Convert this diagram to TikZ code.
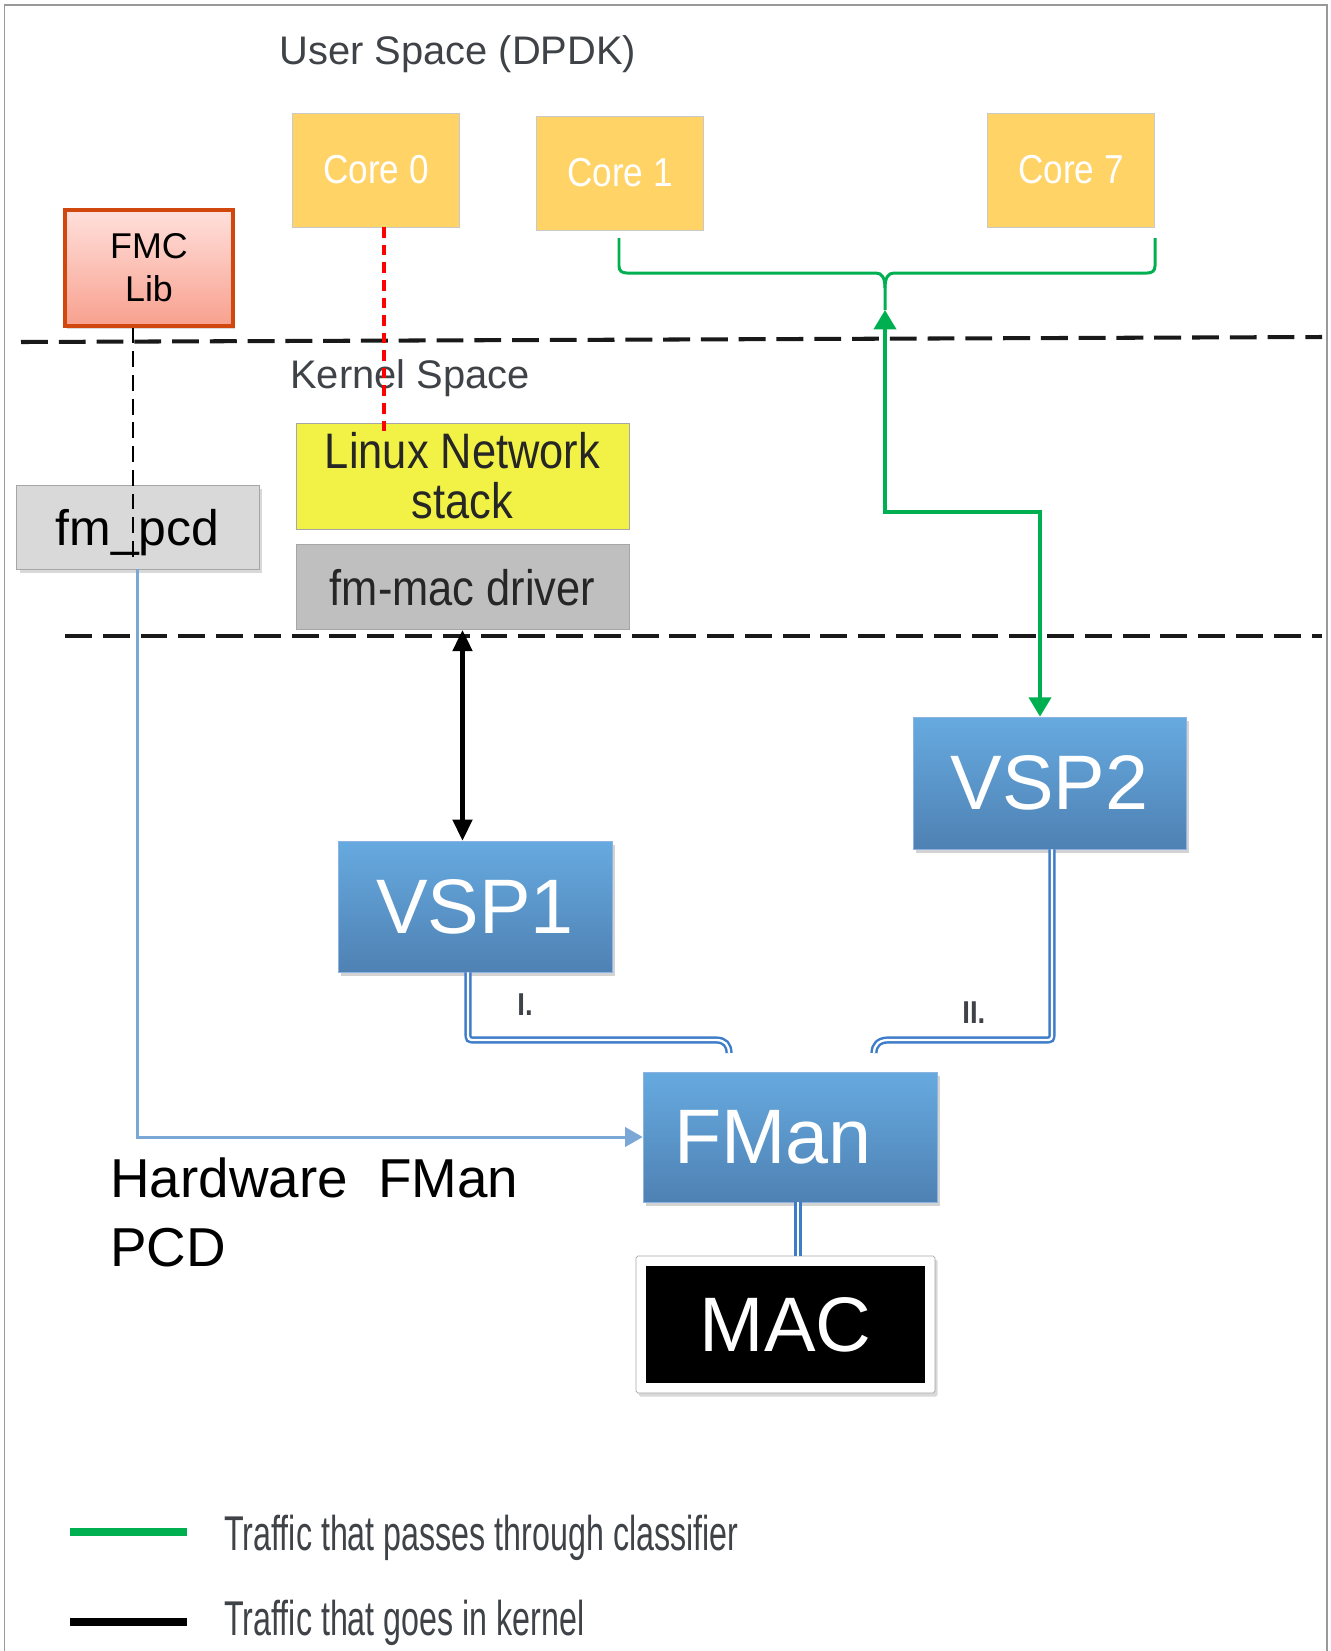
\documentclass[tikz,border=0pt]{standalone}
\usepackage{fontspec}
\setmainfont{Liberation Sans}
\newfontfamily\narrowfont[FakeStretch=0.87]{Liberation Sans}
\newfontfamily\legendfont[FakeStretch=0.66]{Liberation Sans}
\usetikzlibrary{arrows.meta}
\usetikzlibrary{positioning, shadows}
\definecolor{coreyel}{HTML}{FFD366}
\definecolor{coreedge}{HTML}{C9C9C9}
\definecolor{linuxyel}{HTML}{F2F246}
\definecolor{macgray}{HTML}{BFBFBF}
\definecolor{pcdgray}{HTML}{D9D9D9}
\definecolor{boxedge}{HTML}{A6A6A6}
\definecolor{vsptop}{HTML}{66AAE0}
\definecolor{vspbot}{HTML}{4F81B3}
\definecolor{vspedge}{HTML}{8DB3E2}
\definecolor{fmctop}{HTML}{FFE0DC}
\definecolor{fmcbot}{HTML}{F8A08E}
\definecolor{fmcedge}{HTML}{D1480F}
\definecolor{trafgreen}{HTML}{00B050}
\definecolor{pcdblue}{HTML}{7BA7D7}
\definecolor{dblblue}{HTML}{3D7CC9}
\definecolor{lblgray}{HTML}{3F4347}

\begin{document}
\begin{tikzpicture}[
    x=0.02cm, y=-0.02cm,
    spacelbl/.style={text=lblgray, inner sep=0pt, font=\fontsize{22.7pt}{27pt}\selectfont},
    corebox/.style={draw=coreedge, fill=coreyel, minimum width=3.34cm, minimum height=2.28cm,
                    inner sep=0pt, text=white, font=\narrowfont\fontsize{23pt}{27pt}\selectfont},
    kbox/.style={draw=boxedge, minimum width=6.66cm, inner sep=0pt, text=black!85,
                 align=center, font=\narrowfont\fontsize{28.4pt}{28.4pt}\selectfont},
    hwbox/.style={draw=vspedge, top color=vsptop, bottom color=vspbot, text=white,
                  inner sep=0pt, font=\fontsize{44pt}{50pt}\selectfont,
                  drop shadow={shadow xshift=1.5pt, shadow yshift=-2pt, opacity=.35}},
    dbl/.style={draw=dblblue, line width=1.4pt, double=white, double distance=1.3pt},
    divider/.style={line width=2.3pt, dash pattern=on 15.3pt off 6.2pt, black!90},
    greenarrow/.style={trafgreen, line width=2.3pt},
    legendlbl/.style={text=lblgray, inner sep=0pt, anchor=base west,
                      font=\legendfont\fontsize{27.8pt}{30pt}\selectfont},
  ]
  \useasboundingbox (0,0) rectangle (1330,1651);
  \draw[black!40, line width=0.8pt] (4.5,1651) -- (4.5,5) -- (1327,5) -- (1327,1651);

  % ---- user space ----
  \node[spacelbl, anchor=base west] (userlbl) at (279,64) {User Space (DPDK)};
  \node[corebox] (core0) at (376,170) {Core 0};
  \node[corebox] (core1) at (620,173) {Core 1};
  \node[corebox] (core7) at (1071,170) {Core 7};
  \node[draw=fmcedge, line width=1.8pt, top color=fmctop, bottom color=fmcbot,
        minimum width=3.36cm, minimum height=2.32cm, inner sep=0pt, align=center,
        font=\fontsize{20.4pt}{24.4pt}\selectfont,
        drop shadow={shadow xshift=1pt, shadow yshift=-1.5pt, opacity=.3}]
    (fmc) at (149,268) {FMC\\Lib};

  % ---- space dividers ----
  \draw[divider] (21,342) -- (1322,337);
  \draw[divider] (65,636) -- (1322,636);

  % ---- kernel space ----
  \node[spacelbl, anchor=base west] (kernlbl) at (290,388) {Kernel Space};
  \node[kbox, fill=linuxyel, minimum height=2.12cm] (linux) at (462.5,476)
    {Linux Network\\stack};
  \node[kbox, fill=macgray, minimum height=1.7cm, below=3mm of linux] (fmmac) {fm-mac driver};
  \node[draw=boxedge, fill=pcdgray, minimum width=4.86cm, minimum height=1.68cm,
        inner sep=0pt, text depth=0pt, font=\fontsize{28.4pt}{30pt}\selectfont,
        drop shadow={shadow xshift=2pt, shadow yshift=-2.5pt, opacity=.3}]
    (fmpcd) at (137.5,527) {fm\_pcd};

  % (1) control paths
  \coordinate (fmcout) at ([xshift=-3.2mm]fmc.south);
  \coordinate (pcdend) at (133,557);
  \draw[line width=1.6pt, dash pattern=on 9pt off 4.5pt] (fmcout) -- (fmcout |- pcdend);
  \draw[red, line width=2pt, dash pattern=on 6pt off 4pt]
    ([xshift=1.6mm]core0.south) -- ([xshift=1.6mm]core0.south |- 0,433);

  % ---- hardware ----
  \node[hwbox, minimum width=5.48cm, minimum height=2.62cm] (vsp1) at (475,906.5) {VSP1};
  \node[hwbox, minimum width=5.46cm, minimum height=2.64cm] (vsp2) at (1049.5,783) {VSP2};
  \node[hwbox, minimum width=5.88cm, minimum height=2.6cm, text width=4.64cm,
        inner xsep=0.62cm, align=left] (fman) at (790,1137) {FMan};
  \node[draw=black!35, fill=white, rounded corners=1pt, minimum width=5.98cm,
        minimum height=2.74cm, drop shadow={shadow xshift=1.5pt, shadow yshift=-2pt, opacity=.3}]
    (macbox) at (785.5,1324.5) {};
  \node[fill=black, text=white, minimum width=5.58cm, minimum height=2.34cm, inner sep=0pt,
        font=\fontsize{44pt}{50pt}\selectfont] (mac) at (macbox) {MAC};

  \node[anchor=base west, align=left, inner sep=0pt, font=\fontsize{31.2pt}{39pt}\selectfont]
    (hwlbl) at (110,1266) {Hardware\ \ FMan\\PCD};

  % (2) traffic paths
  \coordinate (brL) at (619,238);
  \coordinate (brR) at (1155,238);
  \coordinate (brtip) at (885,310);
  \coordinate (gturn) at (1040,512);
  \draw[trafgreen, line width=1.7pt] (brL) -- (619,266) .. controls (619,271) and (622,273) .. (627,273)
    -- (876,273) .. controls (882,273) and (885,278) .. (885,288) -- (brtip);
  \draw[trafgreen, line width=1.7pt] (brR) -- (1155,266) .. controls (1155,271) and (1152,273) .. (1147,273)
    -- (894,273) .. controls (888,273) and (885,278) .. (885,288);
  \draw[greenarrow, {Triangle[length=11pt, width=12.5pt]}-{Triangle[length=11pt, width=12.5pt]}]
    (brtip) |- (gturn) -- (gturn |- vsp2.north);

  \draw[line width=2.3pt, {Triangle[length=12pt, width=11pt]}-{Triangle[length=12pt, width=11pt]}]
    (fmmac.south) -- (fmmac.south |- vsp1.north);

  \draw[pcdblue, line width=1.7pt, -{Triangle[length=10pt, width=11pt]}]
    (fmpcd.south) |- (fman.west);

  % (3) VSP links to FMan
  \coordinate (vsp1out) at ([xshift=-1.4mm]vsp1.south);
  \coordinate (vsp2out) at ([xshift=0.5mm]vsp2.south);
  \coordinate (hookI) at (729,1053);
  \coordinate (hookII) at (874,1053);
  \draw[dbl] (vsp1out) -- (468,1032) .. controls (468,1040) .. (476,1040) -- (716,1040)
    .. controls (725,1040) and (729,1045) .. (hookI);
  \draw[dbl] (vsp2out) -- (1052,1032) .. controls (1052,1040) .. (1044,1040) -- (888,1040)
    .. controls (879,1040) and (874,1045) .. (hookII);
  \node[anchor=base west, inner sep=0pt, text=lblgray,
        font=\narrowfont\bfseries\fontsize{18pt}{20pt}\selectfont] (lblI) at (517,1015) {I.};
  \node[anchor=base west, inner sep=0pt, text=lblgray,
        font=\narrowfont\bfseries\fontsize{18pt}{20pt}\selectfont] (lblII) at (962,1023) {II.};
  \coordinate (fmanout) at ([xshift=1.6mm]fman.south);
  \draw[dbl] (fmanout) -- (fmanout |- macbox.north);

  % ---- legend ----
  \draw[trafgreen, line width=4.5pt] (70,1532) -- (187,1532);
  \draw[black, line width=5pt] (70,1622) -- (187,1622);
  \node[legendlbl] (leggreen) at (224,1550) {Traffic that passes through classifier};
  \node[legendlbl] (legblack) at (224,1635) {Traffic that goes in kernel};
\end{tikzpicture}
\end{document}
